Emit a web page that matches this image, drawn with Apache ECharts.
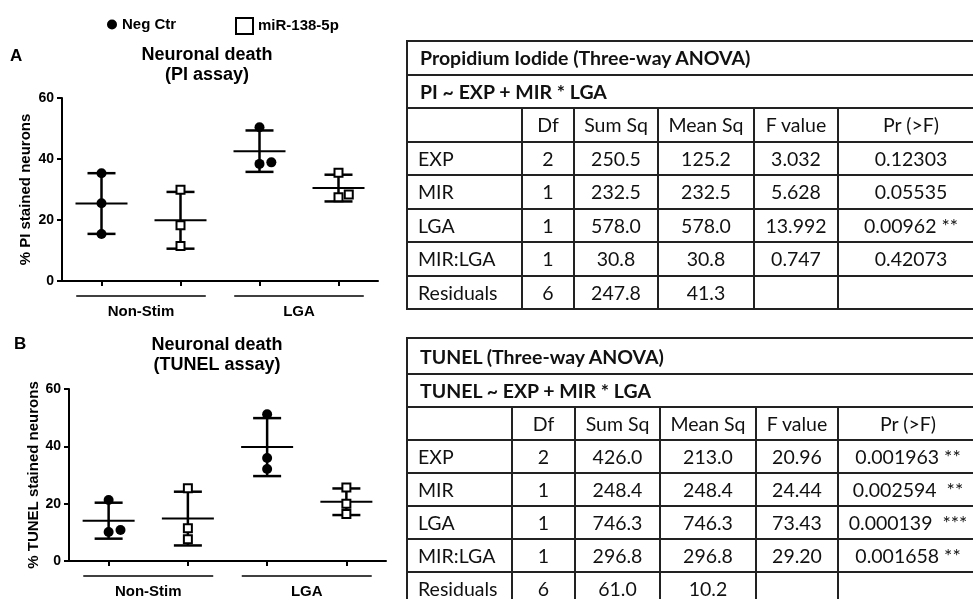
<!DOCTYPE html>
<html>
<head>
<meta charset="utf-8">
<script src="https://cdn.jsdelivr.net/npm/echarts@6/dist/echarts.min.js"></script>
<style>
  html, body { margin: 0; padding: 0; background: #fff; overflow: hidden; width: 973px; height: 599px; }
  #chart { position: absolute; left: 0; top: 0; width: 973px; height: 599px; }
  .anova { position: absolute; left: 406px; border-collapse: collapse; table-layout: fixed;
           font-family: Lato, "Open Sans", sans-serif; font-size: 19.5px; color: #111; }
  .anova td { border: 2px solid #222; padding: 0; text-align: center; white-space: pre; overflow: hidden; }
  .anova td.lab { text-align: left; padding-left: 10px; }
  .anova td.head { text-align: left; padding-left: 12px; font-weight: bold; }
</style>
</head>
<body>
<div id="chart"></div>
<table class="anova" id="tbl1" style="top:40px"></table>
<table class="anova" id="tbl2" style="top:337px"></table>
<script>
// groups on the x axis, Neg Ctr then miR-138-5p inside each group
const groups = ['Non-Stim', 'LGA'];

// % PI stained neurons, three replicates per group
const piNeg = [[35.3, 25.5, 15.4], [50.4, 38.4, 38.9]];
const piMir = [[29.9, 18.3, 11.5], [35.5, 27.5, 28.4]];
// % TUNEL stained neurons
const tunelNeg = [[21.3, 10.1, 10.8], [51.2, 35.9, 32.1]];
const tunelMir = [[25.4, 11.4, 7.6], [25.6, 20.0, 16.4]];
// sideways shift of overlapping replicates (in category widths)
const piNegJitter = [[0, 0, 0], [0, 0, 0.15]];
const piMirJitter = [[0, 0, 0], [0, 0, 0.13]];
const tunelNegJitter = [[0, 0, 0.15], [0, 0, 0]];
const tunelMirJitter = [[0, 0, 0], [0, 0, 0]];
const yTicks = [0, 20, 40, 60];

// ANOVA tables
const tblHeader = ['', 'Df', 'Sum Sq', 'Mean Sq', 'F value', 'Pr (>F)'];
const terms = ['EXP', 'MIR', 'LGA', 'MIR:LGA', 'Residuals'];
const piDf = ['2', '1', '1', '1', '6'];
const piSumSq = ['250.5', '232.5', '578.0', '30.8', '247.8'];
const piMeanSq = ['125.2', '232.5', '578.0', '30.8', '41.3'];
const piF = ['3.032', '5.628', '13.992', '0.747', ''];
const piP = ['0.12303', '0.05535', '0.00962 **', '0.42073', ''];
const tunelDf = ['2', '1', '1', '1', '6'];
const tunelSumSq = ['426.0', '248.4', '746.3', '296.8', '61.0'];
const tunelMeanSq = ['213.0', '248.4', '746.3', '296.8', '10.2'];
const tunelF = ['20.96', '24.44', '73.43', '29.20', ''];
const tunelP = ['0.001963 **', '0.002594  **', '0.000139  ***', '0.001658 **', ''];

function buildTable(id, title, formula, cols, widths, rowH, firstH) {
  const t = document.getElementById(id);
  t.style.width = widths.reduce((a, b) => a + b, 0) + 'px';
  let html = '<colgroup>' + widths.map(w => `<col style="width:${w}px">`).join('') + '</colgroup>';
  html += `<tr style="height:${firstH}px"><td class="head" colspan="6">${title}</td></tr>`;
  html += `<tr style="height:${rowH}px"><td class="head" colspan="6">${formula}</td></tr>`;
  html += `<tr style="height:${rowH}px">` + tblHeader.map(h => `<td>${h}</td>`).join('') + '</tr>';
  terms.forEach((term, i) => {
    html += `<tr style="height:${rowH}px"><td class="lab">${term}</td>` +
      cols.map(c => `<td>${c[i]}</td>`).join('') + '</tr>';
  });
  t.innerHTML = html;
}
buildTable('tbl1', 'Propidium Iodide (Three-way ANOVA)', 'PI ~ EXP + MIR * LGA',
  [piDf, piSumSq, piMeanSq, piF, piP], [115, 52, 84, 96, 84, 146], 33.5, 33.5);
buildTable('tbl2', 'TUNEL (Three-way ANOVA)', 'TUNEL ~ EXP + MIR * LGA',
  [tunelDf, tunelSumSq, tunelMeanSq, tunelF, tunelP], [105, 63, 85, 96, 82, 140], 33, 36);

const FONT = '"Liberation Sans", Arial, sans-serif';

function points(vals, jit, t) {
  const out = [];
  vals.forEach((grp, g) => grp.forEach((v, k) => out.push([2 * g + 1 + t + jit[g][k], v])));
  return out;
}
function meanSd(arr) {
  const m = arr.reduce((a, b) => a + b, 0) / arr.length;
  const sd = Math.sqrt(arr.reduce((a, b) => a + (b - m) * (b - m), 0) / (arr.length - 1));
  return [m, sd];
}
function bars(neg, mir) {
  const out = [];
  groups.forEach((_, g) => {
    out.push([2 * g + 1].concat(meanSd(neg[g])));
    out.push([2 * g + 2].concat(meanSd(mir[g])));
  });
  return out;
}

function seg(x1, y1, x2, y2, w) {
  return { type: 'line', shape: { x1, y1, x2, y2 }, style: { stroke: '#000', lineWidth: w } };
}
// mean line + SD whisker with caps
function renderErrorBar(params, api) {
  const x = api.value(0), m = api.value(1), sd = api.value(2);
  const c = api.coord([x, m]);
  const hi = api.coord([x, m + sd]);
  const lo = api.coord([x, m - sd]);
  return {
    type: 'group',
    children: [
      seg(c[0] - 26, c[1], c[0] + 26, c[1], 2),
      seg(hi[0], hi[1], lo[0], lo[1], 2.5),
      seg(hi[0] - 14, hi[1], hi[0] + 14, hi[1], 2.5),
      seg(lo[0] - 14, lo[1], lo[0] + 14, lo[1], 2.5)
    ]
  };
}
// line under each group of two categories
function renderGroupLine(params, api) {
  const c = api.value(0);
  const a = api.coord([c - 0.82, 0]);
  const b = api.coord([c + 0.82, 0]);
  return seg(a[0], a[1] + 15, b[0], b[1] + 15, 1.5);
}

const panels = [
  { neg: piNeg, mir: piMir, negJit: piNegJitter, mirJit: piMirJitter, yName: '% PI stained neurons',
    grid: { left: 62, top: 98, width: 316, height: 183 }, nameGap: 29 },
  { neg: tunelNeg, mir: tunelMir, negJit: tunelNegJitter, mirJit: tunelMirJitter, yName: '% TUNEL stained neurons',
    grid: { left: 69, top: 389, width: 317, height: 182 }, nameGap: 26 }
];

const option = {
  animation: false,
  textStyle: { fontFamily: FONT },
  legend: [
    { data: ['Neg Ctr'], left: 102, top: 12, icon: 'circle', itemWidth: 10, itemHeight: 10,
      textStyle: { fontFamily: FONT, fontWeight: 'bold', fontSize: 15, color: '#000' } },
    { data: ['miR-138-5p'], left: 230, top: 12, icon: 'rect', itemWidth: 17, itemHeight: 16,
      textStyle: { fontFamily: FONT, fontWeight: 'bold', fontSize: 15, color: '#000' } }
  ],
  grid: panels.map(p => p.grid),
  xAxis: [],
  yAxis: [],
  series: [],
  graphic: [
    { type: 'text', x: 10, y: 48, style: { text: 'A', font: 'bold 17px ' + FONT, fill: '#000' } },
    { type: 'text', x: 207, y: 45, style: { text: 'Neuronal death\n(PI assay)', font: 'bold 18px ' + FONT,
      lineHeight: 20, align: 'center', fill: '#000' } },
    { type: 'text', x: 14, y: 336, style: { text: 'B', font: 'bold 17px ' + FONT, fill: '#000' } },
    { type: 'text', x: 217, y: 335, style: { text: 'Neuronal death\n(TUNEL assay)', font: 'bold 18px ' + FONT,
      lineHeight: 20, align: 'center', fill: '#000' } }
  ]
};

panels.forEach((p, i) => {
  option.xAxis.push({
    type: 'value', gridIndex: i, min: 0.5, max: 4.5,
    axisLine: { lineStyle: { color: '#000', width: 2 } },
    axisTick: { customValues: [1, 2, 3, 4], length: 5, lineStyle: { width: 2 } },
    axisLabel: { show: false }, splitLine: { show: false }
  });
  option.yAxis.push({
    type: 'value', gridIndex: i, min: 0, max: 60, interval: 20,
    name: p.yName, nameLocation: 'middle', nameGap: p.nameGap, nameRotate: 90,
    nameTextStyle: { fontFamily: FONT, fontWeight: 'bold', fontSize: 15, color: '#000' },
    axisLine: { show: true, lineStyle: { color: '#000', width: 2 } },
    axisTick: { show: true, length: 5, lineStyle: { width: 2 } },
    axisLabel: { fontFamily: FONT, fontWeight: 'bold', fontSize: 14, color: '#000', margin: 8,
      customValues: yTicks },
    splitLine: { show: false }
  });
});
// category label axes for the two groups
panels.forEach((p, i) => {
  option.xAxis.push({
    type: 'category', gridIndex: i, data: groups, position: 'bottom',
    axisLine: { show: false }, axisTick: { show: false },
    axisLabel: { margin: 23, fontFamily: FONT, fontWeight: 'bold', fontSize: 15, color: '#000' }
  });
});

panels.forEach((p, i) => {
  option.series.push({
    type: 'custom', xAxisIndex: i, yAxisIndex: i, renderItem: renderErrorBar,
    data: bars(p.neg, p.mir), z: 2, silent: true
  });
  option.series.push({
    type: 'custom', xAxisIndex: i, yAxisIndex: i, renderItem: renderGroupLine, clip: false,
    data: groups.map((g, k) => [2 * k + 1.5, 0]), z: 2, silent: true
  });
  option.series.push({
    name: 'Neg Ctr', type: 'scatter', xAxisIndex: i, yAxisIndex: i, symbol: 'circle', symbolSize: 10,
    itemStyle: { color: '#000', opacity: 1 }, data: points(p.neg, p.negJit, 0), z: 3
  });
  option.series.push({
    name: 'miR-138-5p', type: 'scatter', xAxisIndex: i, yAxisIndex: i, symbol: 'rect', symbolSize: 8,
    itemStyle: { color: '#fff', borderColor: '#000', borderWidth: 2, opacity: 1 },
    data: points(p.mir, p.mirJit, 1), z: 3
  });
});

const chart = echarts.init(document.getElementById('chart'));
chart.setOption(option);
</script>
</body>
</html>
